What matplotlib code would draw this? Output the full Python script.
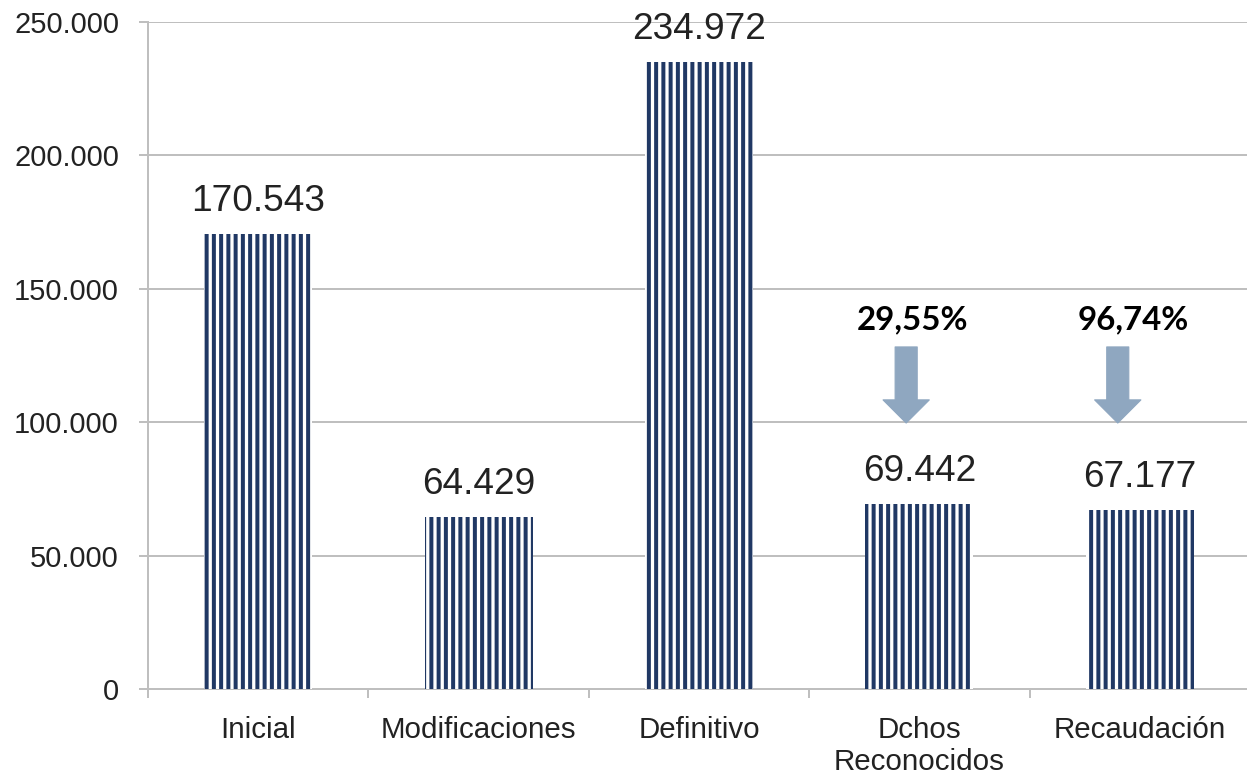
import numpy as np
import matplotlib.pyplot as plt
from matplotlib.ticker import FuncFormatter, FixedLocator

DPI = 87


def pt(px):
    # convierte pixeles a puntos
    return px * 72.0 / DPI


categorias = ["Inicial", "Modificaciones", "Definitivo", "Dchos\nReconocidos", "Recaudación"]
valores = [170543, 64429, 234972, 69442, 67177]
etiquetas = ["170.543", "64.429", "234.972", "69.442", "67.177"]
porcentajes = ["29,55%", "96,74%"]
idx_porcentajes = [3, 4]

navy = "#203864"
gris = "#BFBFBF"
flecha = "#8FA7C0"

plt.rcParams['font.family'] = ['Liberation Sans', 'DejaVu Sans']
plt.rcParams['hatch.linewidth'] = pt(4)
plt.rcParams['hatch.color'] = navy

fig = plt.figure(figsize=(1247 / DPI, 776 / DPI), dpi=DPI)
ax = fig.add_axes([148 / 1247, 1 - 689 / 776, (1250 - 148) / 1247, (689 - 22) / 776])

x = np.arange(len(categorias))
ax.bar(x, valores, width=0.49, color="white", edgecolor=navy, linewidth=0, hatch="||", zorder=3)

# etiquetas de valor
for xi, v, t in zip(x, valores, etiquetas):
    ax.annotate(t, (xi, v), xytext=(0, pt(23)), textcoords="offset points",
                ha="center", va="baseline", fontsize=pt(37), color="#222222",
                annotation_clip=False, zorder=5)

# porcentajes con flechas
desp = [-0.06, -0.10]
for i, p, d in zip(idx_porcentajes, porcentajes, desp):
    ax.text(i - 0.03, 138300, p, ha="center", va="center", fontsize=pt(33),
            fontweight="bold", family=["Lato", "DejaVu Sans"], color="black", zorder=5)
    ax.annotate("", xy=(i + d, 99700), xytext=(i + d, 128200),
                arrowprops=dict(arrowstyle="simple,head_length=1.05,head_width=2.1,tail_width=1.0",
                                mutation_scale=pt(22), color=flecha, shrinkA=0, shrinkB=0),
                zorder=4)

ax.set_xlim(-0.5, len(categorias) - 0.5)
ax.set_ylim(0, 250000)
ax.set_yticks(np.arange(0, 250001, 50000))
ax.yaxis.set_major_formatter(FuncFormatter(lambda v, p: f"{int(v):,}".replace(",", ".")))
ax.grid(axis="y", color=gris, linewidth=pt(2), zorder=0)

ax.set_xticks(x)
ax.set_xticklabels(categorias, linespacing=1.2)
ax.xaxis.set_minor_locator(FixedLocator(np.arange(-0.5, len(categorias), 1.0)))
ax.tick_params(axis="x", which="major", length=0, pad=pt(27), labelsize=pt(29.5), labelcolor="#222222")
ax.tick_params(axis="x", which="minor", length=pt(9), width=pt(2), color=gris)
ax.tick_params(axis="y", length=pt(9), width=pt(2), color=gris, pad=pt(20),
               labelsize=pt(29), labelcolor="#222222")

for s in ["top", "right"]:
    ax.spines[s].set_visible(False)
for s in ["left", "bottom"]:
    ax.spines[s].set_color(gris)
    ax.spines[s].set_linewidth(pt(2))

plt.savefig("out.png", dpi=DPI)
